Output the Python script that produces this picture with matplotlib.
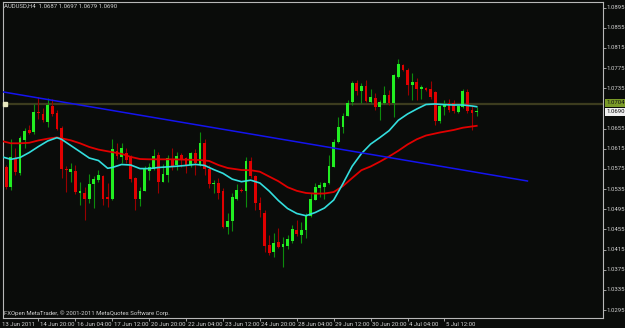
import numpy as np
import matplotlib
matplotlib.use("Agg")
import matplotlib.pyplot as plt
from matplotlib.transforms import blended_transform_factory

# AUDUSD H4, first visible bar = 13 Jun 2011 12:00
bars = np.arange(-1, 103)

opens = [
    1.0545, 1.0579, 1.0539, 1.0597, 1.0567, 1.0632, 1.0652, 1.0648, 1.0688, 1.0684, 1.0668, 1.0700, 1.0686,
    1.0656, 1.0575, 1.0569, 1.0571, 1.0527, 1.0527, 1.0515, 1.0545, 1.0553, 1.0561, 1.0519, 1.0515, 1.0610,
    1.0599, 1.0606, 1.0599, 1.0557, 1.0515, 1.0531, 1.0571, 1.0575, 1.0603, 1.0549, 1.0563, 1.0595, 1.0583,
    1.0603, 1.0597, 1.0583, 1.0607, 1.0583, 1.0626, 1.0575, 1.0545, 1.0547, 1.0531, 1.0460, 1.0472, 1.0515,
    1.0533, 1.0531, 1.0591, 1.0561, 1.0507, 1.0488, 1.0424, 1.0410, 1.0430, 1.0420, 1.0422, 1.0432, 1.0454,
    1.0444, 1.0454, 1.0482, 1.0513, 1.0537, 1.0539, 1.0547, 1.0579, 1.0628, 1.0658, 1.0680, 1.0708, 1.0745,
    1.0730, 1.0740, 1.0708, 1.0716, 1.0698, 1.0706, 1.0722, 1.0706, 1.0757, 1.0781, 1.0771, 1.0741, 1.0747,
    1.0734, 1.0736, 1.0734, 1.0728, 1.0670, 1.0698, 1.0706, 1.0706, 1.0688, 1.0698, 1.0728, 1.0692, 1.0687,
]
highs = [
    1.0583, 1.0583, 1.0634, 1.0617, 1.0640, 1.0656, 1.0662, 1.0704, 1.0718, 1.0696, 1.0716, 1.0714, 1.0692,
    1.0660, 1.0581, 1.0587, 1.0583, 1.0549, 1.0539, 1.0565, 1.0561, 1.0573, 1.0563, 1.0547, 1.0634, 1.0626,
    1.0626, 1.0616, 1.0603, 1.0559, 1.0539, 1.0581, 1.0587, 1.0614, 1.0609, 1.0585, 1.0603, 1.0617, 1.0609,
    1.0607, 1.0599, 1.0609, 1.0615, 1.0648, 1.0634, 1.0583, 1.0553, 1.0557, 1.0537, 1.0488, 1.0527, 1.0545,
    1.0537, 1.0599, 1.0599, 1.0563, 1.0519, 1.0493, 1.0444, 1.0448, 1.0458, 1.0440, 1.0444, 1.0464, 1.0474,
    1.0470, 1.0488, 1.0527, 1.0547, 1.0549, 1.0549, 1.0603, 1.0634, 1.0678, 1.0686, 1.0712, 1.0749, 1.0751,
    1.0745, 1.0751, 1.0734, 1.0726, 1.0712, 1.0740, 1.0732, 1.0763, 1.0793, 1.0783, 1.0775, 1.0765, 1.0755,
    1.0741, 1.0738, 1.0749, 1.0730, 1.0702, 1.0712, 1.0714, 1.0712, 1.0702, 1.0734, 1.0734, 1.0700, 1.0697,
]
lows = [
    1.0541, 1.0535, 1.0533, 1.0563, 1.0563, 1.0617, 1.0644, 1.0644, 1.0674, 1.0668, 1.0658, 1.0680, 1.0652,
    1.0557, 1.0529, 1.0549, 1.0525, 1.0503, 1.0474, 1.0507, 1.0497, 1.0549, 1.0503, 1.0499, 1.0513, 1.0595,
    1.0587, 1.0587, 1.0549, 1.0493, 1.0501, 1.0531, 1.0553, 1.0573, 1.0527, 1.0549, 1.0549, 1.0573, 1.0573,
    1.0579, 1.0567, 1.0579, 1.0563, 1.0581, 1.0563, 1.0537, 1.0527, 1.0515, 1.0458, 1.0446, 1.0452, 1.0513,
    1.0529, 1.0499, 1.0557, 1.0493, 1.0480, 1.0410, 1.0404, 1.0400, 1.0418, 1.0380, 1.0416, 1.0428, 1.0442,
    1.0428, 1.0438, 1.0480, 1.0513, 1.0519, 1.0515, 1.0545, 1.0579, 1.0626, 1.0646, 1.0680, 1.0702, 1.0722,
    1.0706, 1.0708, 1.0706, 1.0692, 1.0672, 1.0704, 1.0702, 1.0678, 1.0755, 1.0769, 1.0722, 1.0712, 1.0712,
    1.0714, 1.0730, 1.0714, 1.0662, 1.0666, 1.0682, 1.0688, 1.0686, 1.0686, 1.0696, 1.0686, 1.0652, 1.0679,
]
closes = [
    1.0579, 1.0539, 1.0599, 1.0569, 1.0636, 1.0650, 1.0646, 1.0688, 1.0686, 1.0672, 1.0702, 1.0684, 1.0654,
    1.0575, 1.0573, 1.0575, 1.0529, 1.0531, 1.0515, 1.0545, 1.0555, 1.0563, 1.0515, 1.0515, 1.0614, 1.0601,
    1.0616, 1.0593, 1.0555, 1.0515, 1.0531, 1.0577, 1.0579, 1.0601, 1.0549, 1.0565, 1.0597, 1.0581, 1.0601,
    1.0593, 1.0581, 1.0607, 1.0587, 1.0626, 1.0575, 1.0545, 1.0547, 1.0527, 1.0460, 1.0472, 1.0519, 1.0533,
    1.0531, 1.0591, 1.0561, 1.0507, 1.0493, 1.0422, 1.0408, 1.0428, 1.0420, 1.0426, 1.0436, 1.0456, 1.0446,
    1.0454, 1.0484, 1.0515, 1.0539, 1.0543, 1.0547, 1.0581, 1.0628, 1.0658, 1.0680, 1.0706, 1.0745, 1.0730,
    1.0740, 1.0710, 1.0718, 1.0698, 1.0708, 1.0722, 1.0706, 1.0761, 1.0783, 1.0771, 1.0741, 1.0747, 1.0734,
    1.0737, 1.0732, 1.0718, 1.0670, 1.0700, 1.0702, 1.0692, 1.0690, 1.0700, 1.0730, 1.0690, 1.0686, 1.0690,
]

# slow moving average (red)
slow_bars = [-1, 1, 3, 5, 7, 9, 11, 12, 14, 16, 18, 20, 22, 25, 27, 29, 31, 36, 42, 44,
             46, 48, 51, 53, 55, 57, 59, 61, 63, 65, 67, 69, 71, 73, 75, 77, 79, 81, 83, 85,
             87, 89, 91, 94, 97, 99, 102]
slow_ma = [1.06304, 1.06258, 1.06258, 1.06268, 1.06315, 1.06349, 1.06375, 1.06357, 1.06317, 1.06258,
           1.06185, 1.06133, 1.06099, 1.06049, 1.05988, 1.05946, 1.05940, 1.05940, 1.05926, 1.05907,
           1.05827, 1.05768, 1.05728, 1.05724, 1.05694, 1.05599, 1.05506, 1.05387, 1.05315, 1.05272,
           1.05260, 1.05262, 1.05291, 1.05410, 1.05569, 1.05724, 1.05798, 1.05893, 1.05996, 1.06109,
           1.06234, 1.06337, 1.06412, 1.06472, 1.06522, 1.06567, 1.06605]

# fast moving average (cyan)
fast_bars = [-1, 1, 3, 5, 7, 9, 11, 12, 14, 16, 18, 20, 22, 23, 25, 27, 29, 31, 33, 35,
             37, 39, 41, 43, 45, 47, 49, 51, 53, 55, 57, 59, 61, 63, 65, 67, 69, 71, 73, 75,
             77, 79, 81, 83, 85, 87, 89, 91, 93, 95, 97, 99, 101, 102]
fast_ma = [1.05992, 1.05940, 1.05976, 1.06075, 1.06194, 1.06304, 1.06369, 1.06337, 1.06214, 1.06091,
           1.05966, 1.05916, 1.05762, 1.05778, 1.05837, 1.05827, 1.05756, 1.05756, 1.05778, 1.05790,
           1.05803, 1.05819, 1.05839, 1.05819, 1.05736, 1.05662, 1.05547, 1.05496, 1.05526, 1.05470,
           1.05311, 1.05123, 1.04964, 1.04865, 1.04821, 1.04885, 1.04974, 1.05133, 1.05458, 1.05803,
           1.06053, 1.06242, 1.06371, 1.06508, 1.06714, 1.06839, 1.06938, 1.07028, 1.07038, 1.07024,
           1.07018, 1.07018, 1.06998, 1.06984]

# trend line anchors and horizontal line level
trend_bars = [-1, 113]
trend_prices = [1.07282, 1.05510]
hline_level = 1.0704

price_ticks = [1.0295, 1.0335, 1.0375, 1.0415, 1.0455, 1.0495, 1.0535, 1.0575,
               1.0615, 1.0655, 1.0735, 1.0775, 1.0815, 1.0855, 1.0895]
time_tick_bars = [7, 15, 23, 31, 39, 47, 55, 63, 71, 79, 87, 95]
time_tick_labels = ["14 Jun 20:00", "16 Jun 04:00", "17 Jun 12:00", "20 Jun 20:00",
                    "22 Jun 04:00", "23 Jun 12:00", "24 Jun 20:00", "28 Jun 04:00",
                    "29 Jun 12:00", "30 Jun 20:00", "4 Jul 04:00", "5 Jul 12:00"]

BG = "#0a0c0a"
FG = "#d2d2d2"
FONT = ["Roboto", "DejaVu Sans"]
FS = 4.3

o = np.array(opens)
h = np.array(highs)
l = np.array(lows)
c = np.array(closes)
up = c >= o

fig = plt.figure(figsize=(6.25, 3.28), dpi=100, facecolor=BG)
ax = fig.add_axes([3 / 625, 10 / 328, 600 / 625, 316 / 328], facecolor=BG)
ax.set_xlim(-0.694, 129.38)
ax.set_ylim(1.02792, 1.09061)

ax.axhline(hline_level, color="#3c3c1e", lw=1.6, zorder=1)
tr = blended_transform_factory(ax.transAxes, ax.transData)
ax.plot([0.003], [hline_level], "s", ms=2.2, color="#e8e8c0", transform=tr, zorder=6, clip_on=False)

wick_col = np.where(up, "#0c8c0c", "#9a0000")
body_col = np.where(up, "#22ee22", "#e00000")
ax.vlines(bars, l, h, colors=wick_col, lw=0.8, zorder=2)
body_h = np.maximum(np.abs(c - o), 0.00012)
ax.bar(bars, body_h, bottom=np.minimum(o, c), width=0.6, color=body_col, lw=0, zorder=3)

ax.plot(slow_bars, slow_ma, color="#e00000", lw=1.3, zorder=4)
ax.plot(fast_bars, fast_ma, color="#33dede", lw=1.2, zorder=4)
ax.plot(trend_bars, trend_prices, color="#1414f0", lw=1.1, zorder=5)

for s in ax.spines.values():
    s.set_color("#b8b8b8")
    s.set_linewidth(0.8)

ax.set_yticks(price_ticks)
ax.set_xticks(time_tick_bars)
ax.tick_params(axis="y", left=False, right=True, labelleft=False, labelright=False,
               length=2.2, width=0.6, color="#b8b8b8")
ax.tick_params(axis="x", bottom=True, labelbottom=False, length=2.2, width=0.6, color="#b8b8b8")

for p in price_ticks:
    ax.annotate(f"{p:.4f}", xy=(1, p), xycoords=("axes fraction", "data"),
                xytext=(3, 0), textcoords="offset pixels", va="center", ha="left",
                color=FG, fontsize=FS, family=FONT)

# price labels of the horizontal line and the bid
ax.annotate(f"{hline_level:.4f}", xy=(1, hline_level), xycoords=("axes fraction", "data"),
            xytext=(3, 1), textcoords="offset pixels", va="center", ha="left",
            color="#101010", fontsize=FS, family=FONT,
            bbox=dict(boxstyle="square,pad=0.2", fc="#7a9a28", ec="none"))
ax.annotate(f"{closes[-1]:.4f}", xy=(1, closes[-1]), xycoords=("axes fraction", "data"),
            xytext=(3, -1), textcoords="offset pixels", va="center", ha="left",
            color="#101010", fontsize=FS, family=FONT,
            bbox=dict(boxstyle="square,pad=0.2", fc="#f0f0f0", ec="none"))

ax.annotate("13 Jun 2011", xy=(0, 0), xycoords="axes fraction", xytext=(-1, -6),
            textcoords="offset pixels", va="center", ha="left", color=FG, fontsize=FS, family=FONT)
for b, lab in zip(time_tick_bars, time_tick_labels):
    ax.annotate(lab, xy=(b, 0), xycoords=("data", "axes fraction"), xytext=(1.5, -6),
                textcoords="offset pixels", va="center", ha="left", color=FG, fontsize=FS, family=FONT)

fig.text(4 / 625, 1 - 6 / 328, "AUDUSD,H4  1.0687 1.0697 1.0679 1.0690", va="center", ha="left",
         color=FG, fontsize=FS, family=FONT)
fig.text(4 / 625, 1 - 313 / 328, "FXOpen MetaTrader, \u00a9 2001-2011 MetaQuotes Software Corp.",
         va="center", ha="left", color=FG, fontsize=FS, family=FONT)

fig.savefig("out.png", dpi=100, facecolor=BG)
